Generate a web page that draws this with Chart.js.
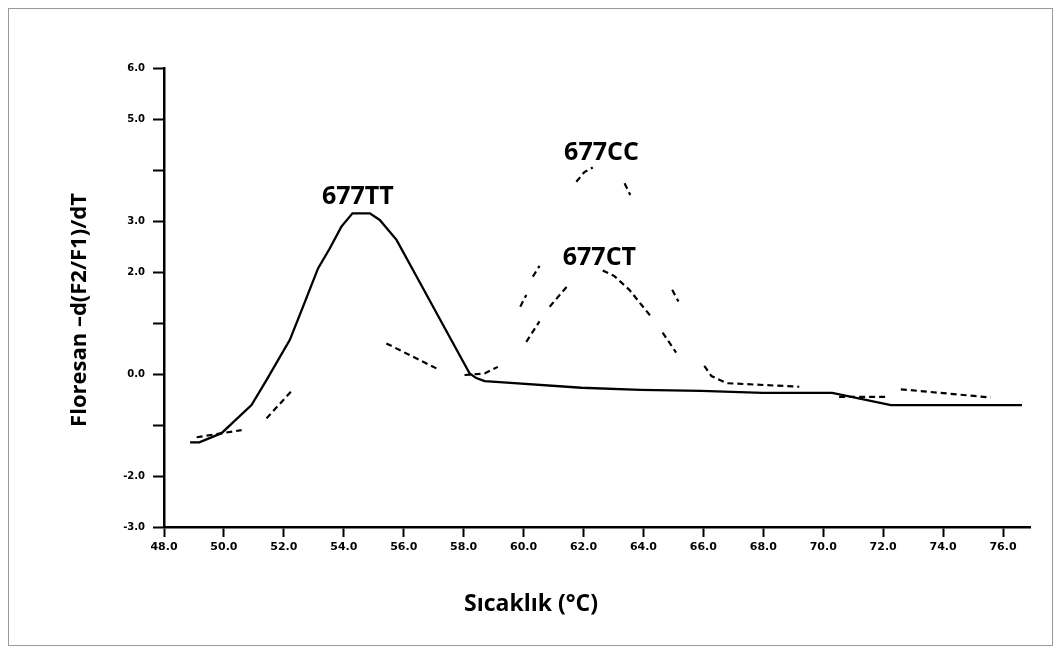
<!DOCTYPE html>
<html>
<head>
<meta charset="utf-8">
<script src="https://cdn.jsdelivr.net/npm/chart.js@4.4.1/dist/chart.umd.min.js"></script>
<style>
  body { margin: 0; background: #fff; }
  #frame { position: absolute; left: 8px; top: 8px; width: 1043px; height: 636px; border: 1px solid #9a9a9a; }
  canvas { position: absolute; left: 0; top: 0; }
</style>
</head>
<body>
<div id="frame"></div>
<canvas id="chart" width="1062" height="653"></canvas>
<script>
// 677TT - solid melt curve
const ttTemp = [48.87, 49.18, 49.92, 50.92, 51.42, 52.2, 52.64, 53.14, 53.53, 53.92, 54.29, 54.87, 55.2, 55.76,
  56.31, 57.09, 58.2, 58.42, 58.7, 59.2, 61.93, 63.9, 65.93, 67.97, 70.3, 72.26, 76.63];
const ttValue = [-1.34, -1.34, -1.16, -0.61, -0.12, 0.67, 1.32, 2.07, 2.46, 2.89, 3.15, 3.15, 3.02, 2.63,
  2.04, 1.2, 0.01, -0.08, -0.14, -0.16, -0.27, -0.31, -0.33, -0.37, -0.37, -0.61, -0.61];

// 677CT - dashed, only fragments are visible (null = gap)
const ctTemp = [49.09, 50.59, 51.0, 51.42, 52.31, 53.5, 55.42, 56.2, 57.09, 57.6, 58.03, 58.7, 59.14, 59.6,
  60.09, 60.53, 60.7, 60.87, 61.44, 62.0, 62.64, 63.03, 63.53, 64.26, 64.45, 64.64, 65.09, 65.5,
  66.03, 66.27, 66.77, 69.2, 69.9, 70.53, 72.09, 72.3, 72.59, 75.59];
const ctValue = [-1.24, -1.10, null, -0.87, -0.30, null, 0.60, 0.37, 0.11, null, -0.02, 0.01, 0.14, null,
  0.63, 1.03, null, 1.32, 1.71, null, 2.03, 1.92, 1.65, 1.12, null, 0.81, 0.42, null,
  0.16, -0.04, -0.18, -0.25, null, -0.45, -0.45, null, -0.30, -0.46];

// 677CC - dashed, only fragments are visible
const ccTemp = [59.89, 60.09, 60.2, 60.31, 60.53, 61.1, 61.76, 62.03, 62.31, 62.8, 63.37, 63.56, 64.3, 64.96, 65.17];
const ccValue = [1.32, 1.55, null, 1.91, 2.12, null, 3.77, 3.96, 4.05, null, 3.74, 3.51, null, 1.65, 1.42];

const xTickValues = [48, 50, 52, 54, 56, 58, 60, 62, 64, 66, 68, 70, 72, 74, 76];
const yTickValues = [6, 5, 3, 2, 0, -2, -3];
const yTickText = ['6.0', '5.0', '3.0', '2.0', '0.0', '-2.0', '-3.0'];

const peakNames = ['677TT', '677CC', '677CT'];
const peakTemp = [54.47, 62.6, 62.53];
const peakValue = [3.47, 4.33, 2.27];

const toPoints = (xs, ys) => xs.map((x, i) => ({ x: x, y: ys[i] }));

const textPlugin = {
  id: 'texts',
  afterDraw(chart) {
    const ctx = chart.ctx;
    const x = chart.scales.x, y = chart.scales.y;
    ctx.save();
    ctx.fillStyle = '#000';
    ctx.textAlign = 'center';
    ctx.textBaseline = 'middle';
    ctx.font = 'bold 25px "Open Sans"';
    peakNames.forEach((name, i) => {
      ctx.fillText(name, x.getPixelForValue(peakTemp[i]), y.getPixelForValue(peakValue[i]));
    });
    // axis titles
    ctx.font = 'bold 23px "Open Sans"';
    ctx.fillText('Sıcaklık (°C)', 531, 604);
    ctx.translate(80, 310);
    ctx.rotate(-Math.PI / 2);
    ctx.font = 'bold 22px "Open Sans"';
    ctx.fillText('Floresan \u2013d(F2/F1)/dT', 0, 0);
    ctx.restore();
  }
};

new Chart(document.getElementById('chart'), {
  type: 'line',
  data: {
    datasets: [
      {
        label: '677TT',
        data: toPoints(ttTemp, ttValue),
        borderColor: '#000',
        borderWidth: 2.3,
        pointRadius: 0,
        tension: 0
      },
      {
        label: '677CT',
        data: toPoints(ctTemp, ctValue),
        borderColor: '#000',
        borderWidth: 2.2,
        borderDash: [6, 4],
        pointRadius: 0,
        spanGaps: false,
        tension: 0
      },
      {
        label: '677CC',
        data: toPoints(ccTemp, ccValue),
        borderColor: '#000',
        borderWidth: 2.2,
        borderDash: [6, 4],
        pointRadius: 0,
        spanGaps: false,
        tension: 0
      }
    ]
  },
  options: {
    responsive: false,
    animation: false,
    layout: { padding: { top: 68, right: 32, left: 0, bottom: 0 } },
    plugins: {
      legend: { display: false },
      tooltip: { enabled: false }
    },
    scales: {
      x: {
        type: 'linear',
        min: 48,
        max: 76.9,
        afterFit: s => { s.height = 126; },
        afterBuildTicks: s => { s.ticks = xTickValues.map(v => ({ value: v })); },
        ticks: {
          color: '#000',
          font: { size: 11, weight: 'bold', family: 'DejaVu Sans' },
          padding: 4,
          maxRotation: 0,
          callback: v => v.toFixed(1)
        },
        grid: { drawOnChartArea: false, drawTicks: true, tickLength: 10, tickWidth: 2, tickColor: '#000' },
        border: { color: '#000', width: 2.5 }
      },
      y: {
        min: -3,
        max: 6,
        afterFit: s => { s.width = 164; },
        ticks: {
          stepSize: 1,
          color: '#000',
          font: { size: 10, weight: 'bold', family: 'DejaVu Sans' },
          padding: 8,
          callback: v => {
            const i = yTickValues.indexOf(v);
            return i >= 0 ? yTickText[i] : '';
          }
        },
        grid: { drawOnChartArea: false, drawTicks: true, tickLength: 11, tickWidth: 2, tickColor: '#000' },
        border: { color: '#000', width: 2.5 }
      }
    }
  },
  plugins: [textPlugin]
});
</script>
</body>
</html>
